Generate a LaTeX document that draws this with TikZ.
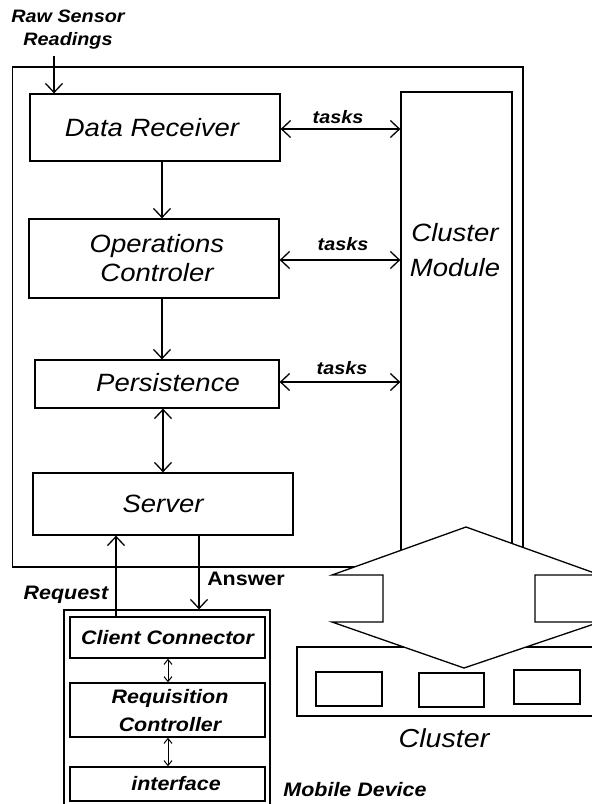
\documentclass[tikz,border=0pt]{standalone}
\usepackage{fontspec}
\setmainfont{Liberation Sans}[FakeStretch=1.1]
\usetikzlibrary{arrows.meta}
\tikzset{
  box/.style={draw, line width=1.3pt, rectangle, inner sep=0pt, fill=white},
  lbl/.style={inner sep=0pt, align=center},
  bigtxt/.style={lbl, font=\fontsize{25}{29}\selectfont\itshape},
  smtxt/.style={lbl, font=\fontsize{18}{21}\selectfont\bfseries\itshape},
  mobtxt/.style={lbl, font=\fontsize{19.5}{28}\selectfont\bfseries\itshape},
  conn/.style={line width=1.3pt},
  arr/.style={conn, -{Straight Barb[length=9pt,width=17pt]}},
  darr/.style={conn, {Straight Barb[length=9pt,width=17pt]}-{Straight Barb[length=9pt,width=17pt]}},
  sdarr/.style={conn, line width=1pt, {Straight Barb[length=5pt,width=8pt]}-{Straight Barb[length=5pt,width=8pt]}},
}
\begin{document}
\begin{tikzpicture}[x=1pt,y=-1pt]
\useasboundingbox (0,0) rectangle (592,804);
\fill[white] (0,0) rectangle (592,804);
\clip (0,0) rectangle (592,804);

% outer system box
\node[box, fill=none, minimum width=510.5pt, minimum height=500pt] (outer) at (267.75,317) {};
% cluster module
\node[box, minimum width=111pt, minimum height=468pt] (cm) at (456.5,326) {};
\node[bigtxt, font=\fontsize{25}{35}\selectfont\itshape] (cmtext) at (455,250) {Cluster\\Module};

% main boxes
\node[box, minimum width=250pt, minimum height=67pt] (dr) at (155,127.5) {};
\node[bigtxt] (drt) at (152,128) {Data Receiver};
\node[box, minimum width=250pt, minimum height=79pt] (oc) at (154,258.5) {};
\node[bigtxt] (oct) at (157,258) {Operations\\Controler};
\node[box, minimum width=244pt, minimum height=48pt] (pe) at (157,384) {};
\node[bigtxt] (pet) at (168,383) {Persistence};
\node[box, minimum width=260pt, minimum height=62pt] (sv) at (163,504) {};
\node[bigtxt] (svt) at (163,504) {Server};

% raw sensor readings
\node[smtxt, font=\fontsize{18}{23}\selectfont\bfseries\itshape] (raw) at (68,30) {Raw Sensor\\Readings};
\coordinate (rawend) at (54,56);
\draw[arr] (rawend) -- (dr.north west -| rawend);

% vertical flow
\draw[arr] (dr.south -| 162,0) -- (oc.north -| 162,0);
\draw[arr] (oc.south -| 162,0) -- (pe.north -| 162,0);
\draw[darr] (pe.south -| 163,0) -- (sv.north -| 163,0);

% tasks
\draw[darr] (dr.east |- 0,129) -- (cm.west |- 0,129);
\node[smtxt] (t1) at (338,117) {tasks};
\draw[darr] (oc.east |- 0,260) -- (cm.west |- 0,260);
\node[smtxt] (t2) at (343,244) {tasks};
\draw[darr] (pe.east |- 0,382) -- (cm.west |- 0,382);
\node[smtxt] (t3) at (342,368) {tasks};

% cluster
\node[box, minimum width=303pt, minimum height=69pt] (cl) at (448.5,681.5) {};
\node[bigtxt, font=\fontsize{26}{29}\selectfont\itshape] (clt) at (444,738) {Cluster};

% double block arrow between cluster module and cluster
\filldraw[fill=white, line width=1.3pt, line join=miter]
  (466,527) -- (332,575) -- (383,575) -- (383,622) -- (332,622) -- (464,668)
  -- (600,622) -- (535,622) -- (535,575) -- (600,575) -- cycle;

\node[box, minimum width=66pt, minimum height=34pt] (c1) at (349,689) {};
\node[box, minimum width=65pt, minimum height=34pt] (c2) at (451.5,690) {};
\node[box, minimum width=66pt, minimum height=34pt] (c3) at (547,687) {};

% mobile device
\node[box, minimum width=206pt, minimum height=200pt] (mob) at (167,710) {};
\node[box, minimum width=195pt, minimum height=41pt] (cc) at (167.5,637.5) {};
\node[mobtxt] (cct) at (167.5,637.5) {Client Connector};
\node[box, minimum width=195pt, minimum height=54pt] (rc) at (167.5,710) {};
\node[mobtxt] (rct) at (170,711) {Requisition\\Controller};
\node[box, minimum width=195pt, minimum height=34pt] (if) at (167.5,784) {};
\node[mobtxt] (ift) at (176,784) {interface};
\draw[sdarr] (cc.south -| 168,0) -- (rc.north -| 168,0);
\draw[sdarr] (rc.south -| 168,0) -- (if.north -| 168,0);

\node[mobtxt] (mobt) at (355,790) {Mobile Device};

% request / answer
\draw[arr] (cc.north -| 116,0) -- (sv.south -| 116,0);
\draw[arr] (sv.south -| 199,0) -- (mob.north -| 199,0);
\node[mobtxt] (req) at (66,595) {Request};
\node[lbl, font=\fontsize{19.5}{23}\selectfont\bfseries] (ans) at (246,579) {Answer};
\end{tikzpicture}
\end{document}
